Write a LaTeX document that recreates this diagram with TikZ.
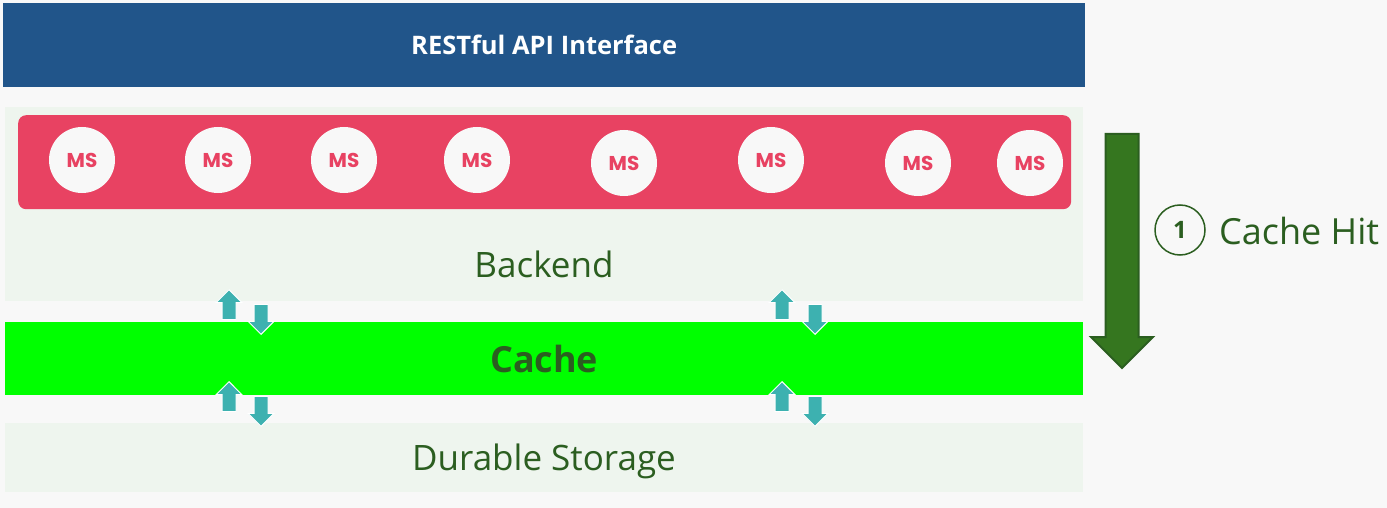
\documentclass[tikz,border=0pt]{standalone}
\usepackage{fontspec}
\setmainfont{Open Sans}
\newfontfamily\msfont{Poppins}
\usetikzlibrary{shapes.arrows}
\definecolor{bggray}{HTML}{F8F8F8}
\definecolor{layergreen}{HTML}{EEF5EE}
\definecolor{apiblue}{HTML}{21558A}
\definecolor{msred}{HTML}{E84262}
\definecolor{cachegreen}{HTML}{00FF00}
\definecolor{textgreen}{HTML}{2B5E20}
\definecolor{teal}{HTML}{3DB1B0}
\definecolor{hitgreen}{HTML}{35761F}
\begin{document}
\begin{tikzpicture}
[x=1pt,y=-1pt,
layer/.style={rectangle,fill=layergreen,draw=none,anchor=north west,inner sep=0pt},
msnode/.style={circle,fill=bggray,minimum size=66pt,inner sep=0pt,
text=msred,font=\msfont\bfseries\fontsize{20}{20}\selectfont},
label text/.style={text=textgreen,font=\fontsize{35}{35}\selectfont},
uparrow/.style={single arrow,shape border rotate=90,fill=teal,draw=white,
line width=1pt,inner sep=6.5pt,single arrow head extend=6pt,
minimum height=30pt,anchor=tip},
downarrow/.style={uparrow,shape border rotate=270}]
% page
\path[fill=bggray] (0,0) rectangle (1387,508);
% layers
\node[rectangle,fill=apiblue,anchor=north west,minimum width=1082,
minimum height=84,inner sep=0pt,text=white,
font=\bfseries\fontsize{25.5}{25.5}\selectfont] (api) at (3,3) {RESTful API Interface};
\node[layer,minimum width=1078,minimum height=194] (backend) at (5,107) {};
\node[layer,minimum width=1078,minimum height=69] (storage) at (5,423) {};
\node[rectangle,fill=msred,rounded corners=8pt,anchor=north west,
minimum width=1053,minimum height=94,inner sep=0pt] (services) at (18,115) {};
\foreach \i/\x/\y in {1/82/160,2/218/160,3/344/160,4/477/160,
5/624/163,6/771/160,7/918/163,8/1030/163}
\node[msnode] (ms\i) at (\x,\y) {MS};
\node[label text] (backendtext) at (544,264) {Backend};
\node[rectangle,fill=cachegreen,anchor=north west,minimum width=1078,
minimum height=73,inner sep=0pt,text=textgreen,
font=\bfseries\fontsize{36}{36}\selectfont] (cache) at (5,322) {Cache};
\node[label text] (storagetext) at (544,461) {Durable Storage};
% up and down arrows
\foreach \n/\x/\d in {a/229/261,b/782/815}{
\node[uparrow] (up\n1) at (\x,289) {};
\node[downarrow] (down\n1) at (\d,335) {};
\node[uparrow] (up\n2) at (\x,381) {};
\node[downarrow] (down\n2) at (\d,427) {};
}
% cache hit
\node[single arrow,shape border rotate=270,fill=hitgreen,draw=textgreen,
line width=2pt,inner sep=15.5pt,single arrow head extend=14.5pt,
minimum height=234pt,anchor=tail] (hit) at (1122,133) {};
\node[circle,draw=textgreen,line width=1.5pt,minimum size=50pt,inner sep=0pt,
text=textgreen,font=\bfseries\fontsize{24}{24}\selectfont] (one) at (1180,230) {1};
\node[text=textgreen,font=\fontsize{36}{36}\selectfont,anchor=west,
inner sep=0pt] (hittext) at (1219,231) {Cache Hit};
\end{tikzpicture}
\end{document}
